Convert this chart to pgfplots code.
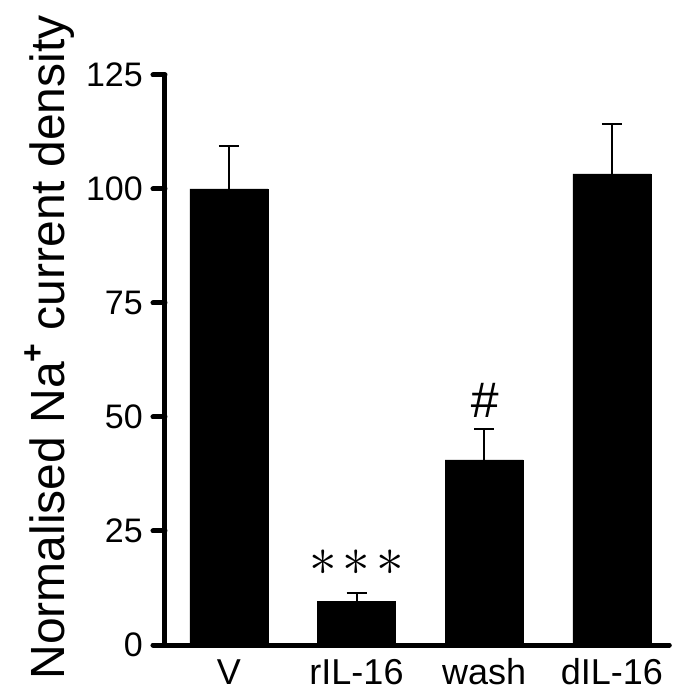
\documentclass[border=0pt]{standalone}
\usepackage{fontspec}
\setmainfont{Liberation Sans}
\usepackage{graphicx}
\usepackage{pgfplots}
\pgfplotsset{compat=1.18}
\usepackage{pgfplotstable}
\pgfplotstableread{
x y err
0 100.0 9.4
1 9.6 1.8
2 40.6 6.8
3 103.3 11.0
}\bardata
\begin{document}
\begin{tikzpicture}
\useasboundingbox (-165pt,-48pt) rectangle (513pt,645pt);
\begin{axis}[
  at={(0,0)}, anchor=south west,
  scale only axis,
  width=504.3pt, height=570pt,
  xmin=-0.5, xmax=3.45,
  ymin=0, ymax=125,
  ytick={0,25,50,75,100,125},
  xtick={0,1,2,3},
  xticklabels={V,rIL-16,wash,dIL-16},
  axis x line=bottom, axis y line=left,
  axis line style={-, line width=5pt, line cap=round},
  tick align=outside,
  major tick length=12pt,
  y tick style={line width=5pt, line cap=round, black},
  x tick style={draw=none},
  /pgf/number format/assume math mode=true,
  yticklabel style={font=\fontsize{34}{34}\selectfont, inner sep=0pt, xshift=-10pt},
  xticklabel style={font=\fontsize{36}{36}\selectfont, inner sep=0pt, anchor=base, yshift=-28pt},
  ylabel={Normalised Na\raisebox{21pt}{\fontsize{32}{32}\selectfont\bfseries +} current density},
  ylabel style={font=\fontsize{48}{50}\selectfont, at={(axis description cs:-0.228,0.522)}, anchor=center},
  clip=false,
]
\addplot[ybar, bar width=78pt, fill=black, draw=black,
  error bars/.cd, y dir=plus, y explicit,
  error bar style={line width=2pt, black},
  error mark options={rotate=90, mark size=10pt, line width=2pt, black}]
  table[x=x, y=y, y error=err] {\bardata};
\node at (axis cs:1,18.0) {\scalebox{5.5}{$\ast$}\hspace{6pt}\scalebox{5.5}{$\ast$}\hspace{6pt}\scalebox{5.5}{$\ast$}};
\node[font=\fontsize{50}{50}\selectfont\itshape] at (axis cs:2,53.7) {\#};
\end{axis}
\end{tikzpicture}
\end{document}
